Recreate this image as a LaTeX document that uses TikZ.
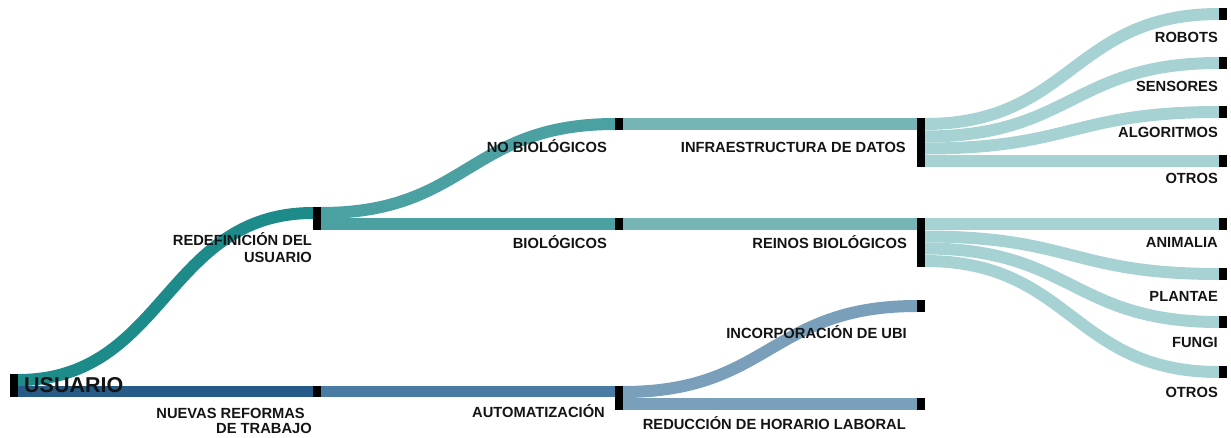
\documentclass[tikz,border=0pt]{standalone}
\usepackage{fontspec}
\setmainfont{Liberation Sans}
\usetikzlibrary{calc}
\definecolor{cA}{HTML}{1E8B8B}
\definecolor{cB}{HTML}{4BA0A2}
\definecolor{cC}{HTML}{76B4B6}
\definecolor{cD}{HTML}{A7D2D3}
\definecolor{bA}{HTML}{255B86}
\definecolor{bB}{HTML}{4A7CA3}
\definecolor{bC}{HTML}{7A9FBB}
\definecolor{txt}{HTML}{141414}
\tikzset{
  bar/.style={fill=black, draw=none, inner sep=0pt, minimum width=7.5pt, anchor=north west},
  lk/.style={line cap=butt},
  lbl/.style={inner sep=0pt, anchor=base east, text=txt, font=\bfseries\fontsize{14.7}{17}\selectfont},
}
\begin{document}
\begin{tikzpicture}[x=1pt,y=-1pt]
\useasboundingbox (0,0) rectangle (1231,437);
% bars (nodes)
\node[bar, minimum height=23pt] (usu) at (10,374) {};
\node[bar, minimum height=23pt] (red) at (313,207) {};
\node[bar, minimum height=11pt] (nue) at (313,386) {};
\node[bar, minimum height=12pt] (nob) at (615,118) {};
\node[bar, minimum height=12pt] (bio) at (615,218) {};
\node[bar, minimum height=24pt] (aut) at (615,386) {};
\node[bar, minimum height=49pt] (inf) at (917,118) {};
\node[bar, minimum height=49pt] (rei) at (917,218) {};
\node[bar, minimum height=12pt] (ubi) at (917,300) {};
\node[bar, minimum height=12pt] (rhl) at (917,398) {};
\node[bar, minimum height=12pt] (rob) at (1219,8) {};
\node[bar, minimum height=12pt] (sen) at (1219,57) {};
\node[bar, minimum height=12pt] (alg) at (1219,106) {};
\node[bar, minimum height=12pt] (ot1) at (1219,155) {};
\node[bar, minimum height=12pt] (ani) at (1219,218) {};
\node[bar, minimum height=12pt] (pla) at (1219,268) {};
\node[bar, minimum height=12pt] (fun) at (1219,316) {};
\node[bar, minimum height=12pt] (ot2) at (1219,366) {};
% links
\draw[lk, cA, line width=12pt] ($(usu.north east)+(0,6)$) .. controls +(148,0) and +(-148,0) .. ($(red.north west)+(0,6)$);
\draw[lk, bA, line width=11pt] ($(usu.north east)+(0,17.5)$) -- ($(nue.north west)+(0,5.5)$);
\draw[lk, cB, line width=12pt] ($(red.north east)+(0,6)$) .. controls +(147,0) and +(-147,0) .. ($(nob.north west)+(0,6)$);
\draw[lk, cB, line width=12pt] ($(red.north east)+(0,17)$) -- ($(bio.north west)+(0,6)$);
\draw[lk, bB, line width=11pt] ($(nue.north east)+(0,5.5)$) -- ($(aut.north west)+(0,5.5)$);
\draw[lk, cC, line width=12pt] ($(nob.north east)+(0,6)$) -- ($(inf.north west)+(0,6)$);
\draw[lk, cC, line width=12pt] ($(bio.north east)+(0,6)$) -- ($(rei.north west)+(0,6)$);
\draw[lk, bC, line width=12pt] ($(aut.north east)+(0,6)$) .. controls +(147,0) and +(-147,0) .. ($(ubi.north west)+(0,6)$);
\draw[lk, bC, line width=12pt] ($(aut.north east)+(0,18)$) -- ($(rhl.north west)+(0,6)$);
\draw[lk, cD, line width=12pt] ($(inf.north east)+(0,6)$) .. controls +(147,0) and +(-147,0) .. ($(rob.north west)+(0,6)$);
\draw[lk, cD, line width=12pt] ($(inf.north east)+(0,18.5)$) .. controls +(147,0) and +(-147,0) .. ($(sen.north west)+(0,6)$);
\draw[lk, cD, line width=12pt] ($(inf.north east)+(0,30.5)$) .. controls +(147,0) and +(-147,0) .. ($(alg.north west)+(0,6)$);
\draw[lk, cD, line width=12pt] ($(inf.north east)+(0,43)$) -- ($(ot1.north west)+(0,6)$);
\draw[lk, cD, line width=12pt] ($(rei.north east)+(0,6)$) -- ($(ani.north west)+(0,6)$);
\draw[lk, cD, line width=12pt] ($(rei.north east)+(0,18.5)$) .. controls +(147,0) and +(-147,0) .. ($(pla.north west)+(0,6)$);
\draw[lk, cD, line width=12pt] ($(rei.north east)+(0,30.5)$) .. controls +(147,0) and +(-147,0) .. ($(fun.north west)+(0,6)$);
\draw[lk, cD, line width=12pt] ($(rei.north east)+(0,43)$) .. controls +(147,0) and +(-147,0) .. ($(ot2.north west)+(0,6)$);
% redraw bars on top
\foreach \n in {usu,red,nue,nob,bio,aut,inf,rei,ubi,rhl,rob,sen,alg,ot1,ani,pla,fun,ot2}{
  \fill[black] (\n.north west) rectangle (\n.south east);
}
% labels
\node[inner sep=0pt, anchor=base west, text=txt, font=\bfseries\fontsize{21.5}{24}\selectfont] (lusu) at (24,392) {USUARIO};
\node[lbl] (lred1) at (312,245) {REDEFINICIÓN DEL};
\node[lbl] (lred2) at (312,262) {USUARIO};
\node[lbl] (lnue1) at (305,418) {NUEVAS REFORMAS};
\node[lbl] (lnue2) at (312,433) {DE TRABAJO};
\node[lbl] (lnob) at (607,152) {NO BIOLÓGICOS};
\node[lbl] (lbio) at (607,248) {BIOLÓGICOS};
\node[lbl] (laut) at (605,417) {AUTOMATIZACIÓN};
\node[lbl] (linf) at (906,152) {INFRAESTRUCTURA DE DATOS};
\node[lbl] (lrei) at (907,248) {REINOS BIOLÓGICOS};
\node[lbl] (lubi) at (907,338) {INCORPORACIÓN DE UBI};
\node[lbl] (lrhl) at (906,429) {REDUCCIÓN DE HORARIO LABORAL};
\node[lbl] (lrob) at (1218,42) {ROBOTS};
\node[lbl] (lsen) at (1218,91) {SENSORES};
\node[lbl] (lalg) at (1218,137) {ALGORITMOS};
\node[lbl] (lot1) at (1218,183) {OTROS};
\node[lbl] (lani) at (1218,247) {ANIMALIA};
\node[lbl] (lpla) at (1218,301) {PLANTAE};
\node[lbl] (lfun) at (1218,347) {FUNGI};
\node[lbl] (lot2) at (1218,397) {OTROS};
\end{tikzpicture}
\end{document}
